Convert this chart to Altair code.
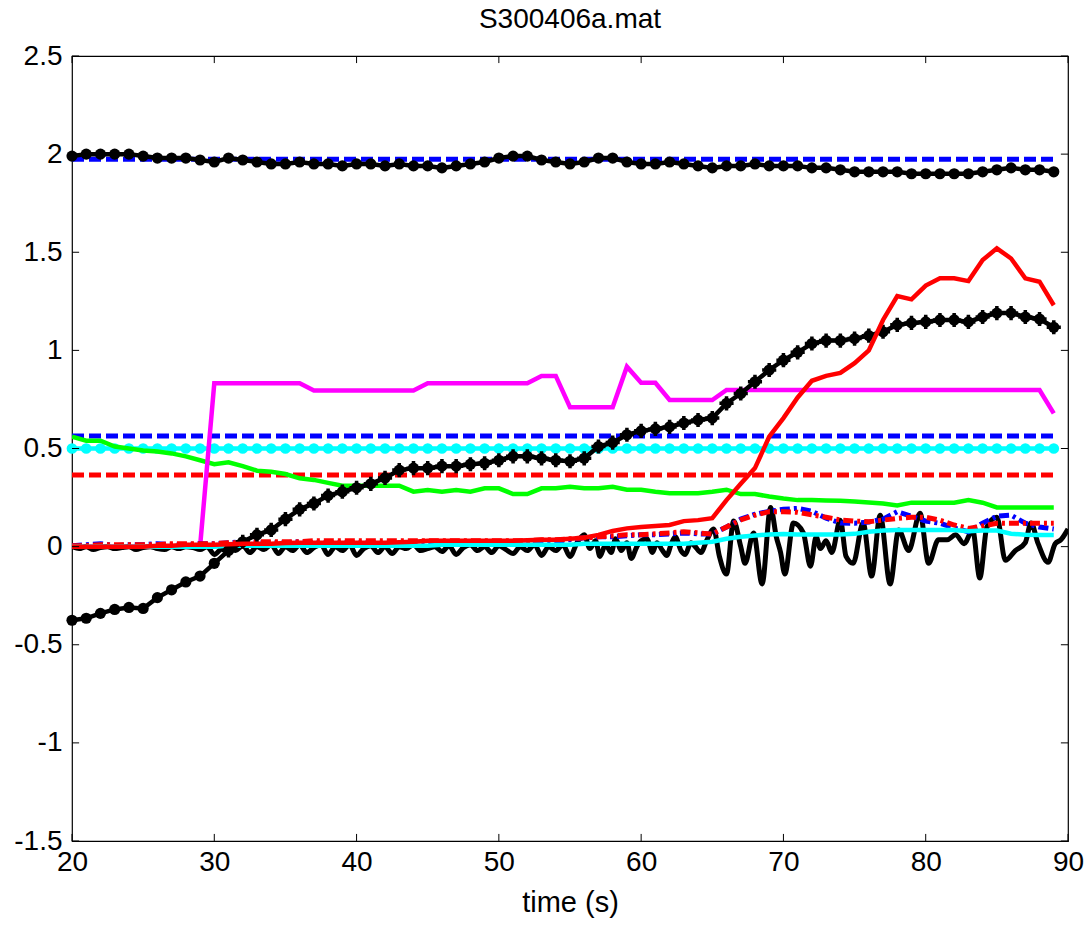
import altair as alt
import pandas as pd

# ---------------- data ----------------
T = list(range(20, 90))  # sample times, 1 s apart

top_black = [1.99, 2.00, 2.00, 2.00, 2.00, 1.99, 1.98, 1.98, 1.98, 1.97,
             1.96, 1.98, 1.97, 1.96, 1.95, 1.95, 1.96, 1.95, 1.95, 1.94,
             1.95, 1.95, 1.94, 1.95, 1.94, 1.94, 1.93, 1.94, 1.95, 1.96,
             1.98, 1.99, 1.99, 1.97, 1.96, 1.95, 1.96, 1.98, 1.98, 1.96,
             1.95, 1.95, 1.96, 1.95, 1.94, 1.93, 1.94, 1.94, 1.95, 1.94,
             1.94, 1.94, 1.93, 1.93, 1.92, 1.91, 1.91, 1.91, 1.91, 1.90,
             1.90, 1.90, 1.90, 1.90, 1.91, 1.92, 1.93, 1.92, 1.92, 1.91]

rise_black = [-0.375, -0.365, -0.34, -0.32, -0.31, -0.315, -0.26, -0.22, -0.18, -0.15,
              -0.085, -0.02, 0.025, 0.06, 0.085, 0.14, 0.19, 0.22, 0.26, 0.28,
              0.30, 0.32, 0.35, 0.39, 0.40, 0.40, 0.41, 0.41, 0.42, 0.425,
              0.44, 0.46, 0.46, 0.45, 0.44, 0.435, 0.45, 0.51, 0.53, 0.57,
              0.59, 0.60, 0.61, 0.63, 0.645, 0.655, 0.73, 0.78, 0.84, 0.90,
              0.95, 0.99, 1.035, 1.05, 1.05, 1.06, 1.075, 1.095, 1.13, 1.14,
              1.145, 1.155, 1.155, 1.145, 1.17, 1.19, 1.19, 1.17, 1.16, 1.118]

red_solid = [0.0, 0.0, 0.0, 0.0, 0.0, 0.0, 0.005, 0.005, 0.01, 0.01,
             0.01, 0.012, 0.015, 0.015, 0.015, 0.018, 0.02, 0.02, 0.02, 0.02,
             0.02, 0.02, 0.02, 0.022, 0.025, 0.03, 0.03, 0.03, 0.03, 0.03,
             0.03, 0.03, 0.032, 0.035, 0.035, 0.04, 0.045, 0.06, 0.08, 0.093,
             0.10, 0.105, 0.11, 0.13, 0.135, 0.145, 0.237, 0.32, 0.40, 0.56,
             0.655, 0.76, 0.845, 0.87, 0.885, 0.935, 1.0, 1.155, 1.277, 1.26,
             1.33, 1.367, 1.367, 1.353, 1.46, 1.52, 1.468, 1.367, 1.35, 1.23]

green = [0.56, 0.54, 0.54, 0.51, 0.50, 0.49, 0.485, 0.475, 0.46, 0.44,
         0.42, 0.43, 0.41, 0.387, 0.382, 0.37, 0.348, 0.34, 0.325, 0.31,
         0.31, 0.31, 0.31, 0.31, 0.28, 0.288, 0.28, 0.288, 0.28, 0.297,
         0.297, 0.268, 0.268, 0.297, 0.297, 0.305, 0.297, 0.297, 0.305, 0.29,
         0.29, 0.28, 0.272, 0.272, 0.272, 0.28, 0.29, 0.268, 0.268, 0.255,
         0.245, 0.237, 0.237, 0.235, 0.234, 0.23, 0.225, 0.22, 0.21, 0.224,
         0.224, 0.224, 0.224, 0.237, 0.224, 0.20, 0.20, 0.20, 0.20, 0.20]

magenta = [0, 0, 0, 0, 0, 0, 0, 0, 0, 0,
           0.832, 0.832, 0.832, 0.832, 0.832, 0.832, 0.832, 0.795, 0.795, 0.795,
           0.795, 0.795, 0.795, 0.795, 0.795, 0.832, 0.832, 0.832, 0.832, 0.832,
           0.832, 0.832, 0.832, 0.87, 0.87, 0.71, 0.71, 0.71, 0.71, 0.917,
           0.835, 0.835, 0.747, 0.747, 0.747, 0.747, 0.798, 0.798, 0.798, 0.798,
           0.798, 0.798, 0.798, 0.798, 0.798, 0.798, 0.798, 0.798, 0.798, 0.798,
           0.798, 0.798, 0.798, 0.798, 0.798, 0.798, 0.798, 0.798, 0.798, 0.679]

blue_dashdot = [0.005, 0.01, 0.015, 0.005, 0.01, 0.01, 0.015, 0.01, 0.01, 0.015,
                0.015, 0.02, 0.025, 0.02, 0.02, 0.02, 0.025, 0.02, 0.02, 0.02,
                0.02, 0.02, 0.015, 0.02, 0.02, 0.02, 0.015, 0.02, 0.02, 0.02,
                0.02, 0.025, 0.02, 0.025, 0.03, 0.035, 0.045, 0.05, 0.05, 0.055,
                0.06, 0.06, 0.065, 0.07, 0.065, 0.064, 0.10, 0.14, 0.165, 0.18,
                0.19, 0.195, 0.18, 0.145, 0.12, 0.119, 0.125, 0.14, 0.178, 0.155,
                0.13, 0.119, 0.095, 0.076, 0.12, 0.155, 0.16, 0.119, 0.10, 0.09]

red_dashdot = [0.005, 0.005, 0.01, 0.01, 0.01, 0.01, 0.01, 0.015, 0.015, 0.015,
               0.015, 0.02, 0.02, 0.025, 0.025, 0.025, 0.025, 0.03, 0.03, 0.03,
               0.03, 0.03, 0.03, 0.03, 0.03, 0.03, 0.03, 0.03, 0.03, 0.03,
               0.03, 0.03, 0.03, 0.035, 0.035, 0.04, 0.045, 0.05, 0.055, 0.06,
               0.06, 0.065, 0.07, 0.076, 0.07, 0.064, 0.10, 0.136, 0.16, 0.178,
               0.178, 0.175, 0.162, 0.15, 0.136, 0.13, 0.127, 0.135, 0.144, 0.15,
               0.15, 0.135, 0.11, 0.093, 0.105, 0.119, 0.119, 0.119, 0.119, 0.119]

cyan_solid = [0.0, 0.0, 0.0, 0.0, 0.0, 0.0, 0.0, 0.0, 0.0, 0.0,
              0.0, 0.005, 0.005, 0.005, 0.005, 0.005, 0.005, 0.005, 0.005, 0.005,
              0.005, 0.005, 0.005, 0.005, 0.005, 0.005, 0.01, 0.01, 0.01, 0.01,
              0.01, 0.01, 0.01, 0.01, 0.01, 0.01, 0.015, 0.015, 0.015, 0.015,
              0.015, 0.015, 0.015, 0.015, 0.02, 0.025, 0.04, 0.05, 0.057, 0.062,
              0.064, 0.062, 0.062, 0.062, 0.062, 0.065, 0.076, 0.082, 0.085, 0.085,
              0.085, 0.085, 0.085, 0.078, 0.082, 0.082, 0.066, 0.06, 0.059, 0.059]

# fast-varying black trace near zero
noise_t = [20.0, 20.5, 21.0, 21.5, 22.0, 22.5, 23.0, 23.5, 24.0, 24.5,
           25.0, 25.5, 26.0, 26.5, 27.0, 27.5, 28.0, 28.5, 29.0, 29.5,
           30.0, 30.5, 31.0, 31.5, 32.0, 32.5, 33.0, 33.5, 34.0, 34.5,
           35.0, 35.5, 36.0, 36.5, 37.0, 37.5, 38.0, 38.5, 39.0, 39.5,
           40.0, 40.5, 41.0, 41.5, 42.0, 42.5, 43.0, 43.5, 44.0, 44.5,
           45.0, 45.5, 46.0, 46.5, 47.0, 47.5, 48.0, 48.5, 49.0, 49.5,
           50.0, 50.5, 51.0, 51.5, 52.0, 52.5, 53.0, 53.5, 54.0, 54.5,
           55.0, 55.5,
           56.0, 56.4, 56.8, 57.1, 57.5, 57.9, 58.2, 58.6, 59.0, 59.3,
           59.7, 60.0, 60.4, 60.8, 61.1, 61.5, 61.8, 62.1, 62.4, 62.8,
           63.1, 63.5, 63.8, 64.2, 64.6, 65.1, 65.5, 66.0, 66.5, 67.0,
           67.3, 67.9, 68.5, 69.1, 69.5, 69.8, 70.1, 70.7, 71.4, 71.9,
           72.3, 72.6, 73.0, 73.4, 74.0, 74.4, 74.9, 75.6, 76.2, 76.8,
           77.5, 78.1, 78.8, 79.6, 80.2, 80.9, 81.5, 82.1, 82.7, 83.3,
           83.8, 84.3, 85.0, 85.6, 86.3, 87.0, 87.4, 87.9, 88.6, 89.1,
           89.5, 90.0]
noise_v = [0.0, -0.01, 0.0, -0.015, -0.005, 0.0, -0.01, -0.005, 0.0, -0.015,
           -0.005, 0.0, -0.01, -0.015, 0.0, -0.01, 0.0, -0.005, -0.015, 0.0,
           -0.04, -0.01, 0.0, -0.02, 0.005, -0.03, 0.0, -0.015, 0.01, -0.035,
           0.0, -0.02, 0.01, -0.03, -0.005, 0.01, -0.04, 0.0, -0.02, 0.01,
           -0.045, -0.01, 0.005, -0.03, 0.0, -0.035, 0.0, -0.01, 0.01, -0.02,
           -0.01, 0.0, -0.025, 0.005, -0.04, -0.005, 0.01, -0.02, 0.0, -0.03,
           0.005, -0.015, -0.035, 0.0, -0.02, 0.01, -0.045, 0.0, -0.02, 0.01,
           -0.05, 0.02,
           0.06, -0.01, 0.03, -0.05, 0.01, -0.03, 0.04, -0.02, 0.02, -0.06,
           0.0, 0.03, 0.04, -0.03, 0.02, -0.02, -0.045, 0.01, 0.05, -0.02,
           -0.04, 0.02, 0.0, -0.03, 0.03, 0.09, -0.05, -0.14, 0.13, 0.0,
           -0.085, 0.07, -0.19, 0.20, 0.05, -0.03, -0.14, 0.12, 0.07, -0.10,
           0.05, -0.01, 0.03, -0.03, 0.135, -0.05, -0.085, 0.12, -0.15, 0.16,
           -0.19, 0.085, -0.02, 0.17, -0.085, 0.035, 0.035, 0.06, 0.015, 0.085,
           -0.16, 0.10, 0.15, -0.07, -0.02, 0.02, 0.12, 0.015, -0.08, 0.015,
           0.035, 0.09]

# constant reference levels
level_t = [20, 89]
blue_dash_high = 1.974
blue_dash_low = 0.564
red_dash_level = 0.365
cyan_dot_level = 0.5

x_ticks = [20, 30, 40, 50, 60, 70, 80, 90]
y_ticks = [-1.5, -1.0, -0.5, 0.0, 0.5, 1.0, 1.5, 2.0, 2.5]

# ---------------- chart ----------------
FONT = "Liberation Sans"
W, H = 996, 785

x_axis = alt.Axis(values=x_ticks, labelFlush=False, labelOverlap=False, labelPadding=7,
                  titlePadding=12, labelExpr="datum.value + ''")
y_axis = alt.Axis(values=y_ticks, labelPadding=10, labelOverlap=False, labelFlush=False,
                  labelExpr="datum.value + ''")
xs = alt.Scale(domain=[20, 90], nice=False, zero=False)
ys = alt.Scale(domain=[-1.5, 2.5], nice=False, zero=False)


def X(field="t"):
    return alt.X(f"{field}:Q", scale=xs, axis=x_axis, title="time (s)")


def Y(field="v"):
    return alt.Y(f"{field}:Q", scale=ys, axis=y_axis, title=None)


def frame(ts, vs):
    return pd.DataFrame({"t": ts, "v": vs})


def line(df, color, width, dash=None, interp="linear"):
    kw = dict(color=color, strokeWidth=width, interpolate=interp, clip=True)
    if dash:
        kw["strokeDash"] = dash
    return alt.Chart(df).mark_line(**kw).encode(x=X(), y=Y())


def dots(df, color, size):
    return alt.Chart(df).mark_circle(color=color, size=size, opacity=1).encode(x=X(), y=Y())


df_top = frame(T, top_black)
df_rise = frame(T, rise_black)
df_cyan_dots = frame(T, [cyan_dot_level] * len(T))

layers = [
    line(frame(level_t, [blue_dash_high] * 2), "#0000ff", 5, [12, 5]),
    line(frame(level_t, [blue_dash_low] * 2), "#0000ff", 5, [12, 5]),
    line(frame(level_t, [red_dash_level] * 2), "#ff0000", 5, [12, 5]),
    line(df_cyan_dots, "#00ffff", 4.5),
    dots(df_cyan_dots, "#00ffff", 115),
    line(frame(T, green), "#00ff00", 4.5),
    line(frame(T, magenta), "#ff00ff", 4.5),
    line(frame(noise_t, noise_v), "#000000", 5, interp="monotone"),
    line(frame(T, blue_dashdot), "#0000ff", 5, [10, 4, 3, 4]),
    line(frame(T, red_dashdot), "#ff0000", 5, [10, 4, 3, 4]),
    line(frame(T, cyan_solid), "#00ffff", 4.5),
    line(df_top, "#000000", 4.5),
    dots(df_top, "#000000", 125),
    line(df_rise, "#000000", 4.5),
    dots(df_rise, "#000000", 125),
    alt.Chart(df_rise[df_rise["t"] >= 31]).mark_point(
        shape="M0,-1L0,1M-1,0L1,0", size=200, filled=False, color="#000000",
        strokeWidth=3.5, opacity=1).encode(x=X(), y=Y()),
    line(frame(T, red_solid), "#ff0000", 4.5),
]

# inward box ticks (MATLAB style) on all four sides
xt = pd.DataFrame({"t": x_ticks})
yt = pd.DataFrame({"v": y_ticks})
dy = 0.036  # ~7 px in data units
dx = 0.5    # ~7 px in data units
layers += [
    alt.Chart(xt).mark_rule(color="black", strokeWidth=1).encode(
        x=X(), y=alt.datum(-1.5, scale=ys), y2=alt.datum(-1.5 + dy)),
    alt.Chart(xt).mark_rule(color="black", strokeWidth=1).encode(
        x=X(), y=alt.datum(2.5, scale=ys), y2=alt.datum(2.5 - dy)),
    alt.Chart(yt).mark_rule(color="black", strokeWidth=1).encode(
        y=Y(), x=alt.datum(20, scale=xs), x2=alt.datum(20 + dx)),
    alt.Chart(yt).mark_rule(color="black", strokeWidth=1).encode(
        y=Y(), x=alt.datum(90, scale=xs), x2=alt.datum(90 - dx)),
]

chart = alt.layer(*layers).properties(
    width=W, height=H,
    title=alt.TitleParams("S300406a.mat", anchor="middle", offset=8),
    autosize=alt.AutoSizeParams(type="none"),
    padding={"left": 72, "top": 56, "right": 23, "bottom": 85},
    background="white",
).configure_view(
    stroke="black", strokeWidth=1.2
).configure_axis(
    domain=False, ticks=False, grid=False,
    labelFont=FONT, labelFontSize=28, labelColor="black",
    titleFont=FONT, titleFontSize=29, titleFontWeight="normal", titleColor="black",
).configure_title(
    font=FONT, fontSize=28, fontWeight="normal", color="black",
)

chart.save("out.html", embed_options={"renderer": "svg", "actions": False})
